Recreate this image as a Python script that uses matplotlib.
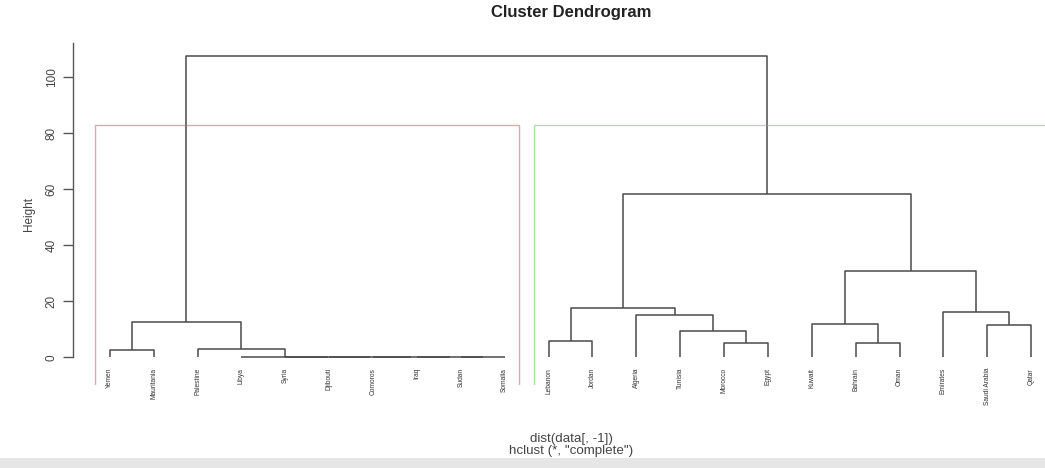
import matplotlib
matplotlib.use("Agg")
import matplotlib.pyplot as plt
from matplotlib.patches import Rectangle

# ---- data (leaf order as drawn, merges as in hclust) ----
leaf_labels = ["Yemen", "Mauritania", "Palestine", "Libya", "Syria", "Djibouti",
               "Comoros", "Iraq", "Sudan", "Somalia", "Lebanon", "Jordan",
               "Algeria", "Tunisia", "Morocco", "Egypt", "Kuwait", "Bahrain",
               "Oman", "Emirates", "Saudi Arabia", "Qatar"]
# each merge joins two items (leaf name or earlier merge index as int)
merge_left = ["Sudan", "Iraq", "Comoros", "Djibouti", "Syria", "Libya", "Palestine",
              "Yemen", 7, "Lebanon", "Morocco", "Tunisia", "Algeria", 9,
              "Bahrain", "Kuwait", "Saudi Arabia", "Emirates", 15, 13, 8]
merge_right = ["Somalia", 0, 1, 2, 3, 4, 5,
               "Mauritania", 6, "Jordan", "Egypt", 10, 11, 12,
               "Oman", 14, "Qatar", 16, 17, 18, 19]
merge_height = [0.0, 0.0, 0.0, 0.0, 0.0, 0.0, 3.0,
                2.6, 12.7, 5.9, 5.0, 9.5, 15.1, 17.7,
                5.2, 11.9, 11.5, 16.2, 30.9, 58.4, 107.6]
k_clusters = 2
cluster_sizes = [10, 12]
rect_colors = ["#DF536B", "#61D04F"]
yticks = [0, 20, 40, 60, 80, 100]

W, H = 1045, 468
fig = plt.figure(figsize=(W / 100, H / 100), dpi=100)
plt.rcParams['font.family'] = ['Liberation Sans', 'DejaVu Sans']

x0, x1 = 73, 1068
ytop, ybot = 43, 385
YMIN, YMAX = -9.9, 112.3
ax = fig.add_axes([x0 / W, (H - ybot) / H, (x1 - x0) / W, (ybot - ytop) / H])
ax.set_xlim(0.16, 22.84)
ax.set_ylim(YMIN, YMAX)

# compute node positions
pos = {name: i + 1 for i, name in enumerate(leaf_labels)}
hgt = {name: 0.0 for name in leaf_labels}
line_kw = dict(color="#4a4a4a", lw=1.1, solid_capstyle="butt")
for i, (a, b, h) in enumerate(zip(merge_left, merge_right, merge_height)):
    xa, xb = pos[a], pos[b]
    ha, hb = hgt[a], hgt[b]
    ax.plot([xa, xa, xb, xb], [ha, h, h, hb], **line_kw)
    pos[i] = (xa + xb) / 2
    hgt[i] = h

# leaf labels
for i, name in enumerate(leaf_labels):
    ax.text(i + 1, -3.8, name, rotation=90, ha="center", va="top",
            fontsize=4.8, color="#333333")

# rect.hclust style rectangles (bottom edge falls on plot-region border)
hs = sorted(merge_height)
rect_top = (hs[-1] + hs[-2]) / 2
start = 0
for size, col in zip(cluster_sizes, rect_colors):
    left = start + 0.66
    right = start + size + 0.33
    ax.plot([left, left, right, right], [YMIN, rect_top, rect_top, YMIN],
            color=col, lw=1.0, alpha=0.55)
    start += size

# axes styling
for s in ["top", "right", "bottom"]:
    ax.spines[s].set_visible(False)
ax.spines["left"].set_bounds(0, YMAX)
ax.spines["left"].set_color("#555555")
ax.spines["left"].set_linewidth(1.0)
ax.set_xticks([])
ax.set_yticks(yticks)
ax.set_yticklabels([str(t) for t in yticks], rotation=90, va="center",
                   fontsize=8.5, color="#444444")
ax.tick_params(axis="y", length=7, width=1.0, color="#555555", pad=4)
ax.set_ylabel("Height", fontsize=8.5, color="#444444", labelpad=8)

fig.text(571 / W, 1 - 13 / H, "Cluster Dendrogram", ha="center", va="center",
         fontsize=12, fontweight="bold", color="#222222")
fig.text(571 / W, 1 - 439 / H, "dist(data[, -1])", ha="center", va="center",
         fontsize=9.6, color="#444444")
fig.text(571 / W, 1 - 451 / H, 'hclust (*, "complete")', ha="center", va="center",
         fontsize=9.6, color="#444444")

fig.patches.append(Rectangle((0, 0), 1, 10 / H, transform=fig.transFigure,
                             facecolor="#e6e6e6", edgecolor="none"))

fig.savefig("out.png", dpi=100)
